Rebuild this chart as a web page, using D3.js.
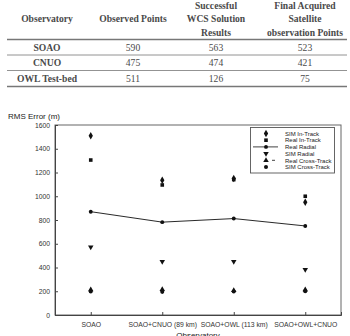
<!DOCTYPE html>
<html>
<head>
<meta charset="utf-8">
<script src="https://cdn.jsdelivr.net/npm/d3@7"></script>
<style>
  body { margin: 0; background: #fff; }
  svg { display: block; }
</style>
</head>
<body>
<div id="chart"></div>
<script>
// table data
var tableHeaders = [["Observatory"], ["Observed Points"], ["Successful", "WCS Solution", "Results"], ["Final Acquired", "Satellite", "observation Points"]];
var observatories = ["SOAO", "CNUO", "OWL Test-bed"];
var observedPoints = [590, 475, 511];
var wcsResults = [563, 474, 126];
var finalPoints = [523, 421, 75];

// chart data
var categories = ["SOAO", "SOAO+CNUO (89 km)", "SOAO+OWL (113 km)", "SOAO+OWL+CNUO"];
var simInTrack = [1510, 1135, 1150, 950];
var realInTrack = [1305, 1095, 1140, 1000];
var realRadial = [870, 782, 812, 750];
var simRadial = [572, 450, 450, 382];
var realCrossTrack = [213, 216, 206, 214];
var simCrossTrack = [198, 195, 198, 201];
var yTicks = [0, 200, 400, 600, 800, 1000, 1200, 1400, 1600];

var svgWidth = 350;
var svgHeight = 336;

var svg = d3.select("#chart")
  .append("svg")
  .attr("width", svgWidth)
  .attr("height", svgHeight);

// ---------- table ----------
var colX = [47, 133, 216, 305];
var tableFont = "'Liberation Serif', 'DejaVu Serif', serif";
var tableColor = "#4a4a4a";

var header = svg.append("g");
tableHeaders.forEach(function(lines, i) {
  var y0 = lines.length == 1 ? 21.5 : 8.5;
  lines.forEach(function(t, j) {
    header.append("text")
      .attr("x", colX[i])
      .attr("y", y0 + j * 13.5)
      .attr("text-anchor", "middle")
      .attr("font-family", tableFont)
      .attr("font-weight", "bold")
      .attr("font-size", 9.6)
      .attr("fill", tableColor)
      .text(t);
  });
});

var rowY = [48, 63, 78.5];
var rows = observatories.map(function(o, i) {
  return [o, observedPoints[i], wcsResults[i], finalPoints[i]];
});

rows.forEach(function(r, i) {
  r.forEach(function(v, j) {
    svg.append("text")
      .attr("x", colX[j])
      .attr("y", rowY[i] + 3.3)
      .attr("text-anchor", "middle")
      .attr("font-family", tableFont)
      .attr("font-weight", j == 0 ? "bold" : "normal")
      .attr("font-size", 9.6)
      .attr("fill", tableColor)
      .text(v);
  });
});

// rules
[[39.5, 1.4], [55, 0.8], [70.5, 0.8], [86.5, 1.4]].forEach(function(l) {
  svg.append("line")
    .attr("x1", 7).attr("x2", 347)
    .attr("y1", l[0]).attr("y2", l[0])
    .attr("stroke", "#777")
    .attr("stroke-width", l[1]);
});

// ---------- chart ----------
var margin = { top: 125, left: 55, right: 9, bottom: 21 };
var width = svgWidth - margin.left - margin.right;
var height = svgHeight - margin.top - margin.bottom;
var chartFont = "'Liberation Sans', Arial, sans-serif";

var chartGroup = svg.append("g")
  .attr("transform", `translate(${margin.left}, ${margin.top})`);

var xScale = d3.scalePoint()
  .domain(categories)
  .range([0, width])
  .padding(0.5);

var yScale = d3.scaleLinear()
  .domain([0, 1600])
  .range([height, 0]);

// frame
chartGroup.append("rect")
  .attr("width", width)
  .attr("height", height)
  .attr("fill", "none")
  .attr("stroke", "#666")
  .attr("stroke-width", 1);

var yAxis = chartGroup.append("g")
  .call(d3.axisRight(yScale).tickValues(yTicks).tickSize(3).tickFormat(d3.format("d")));
yAxis.select(".domain").attr("stroke", "#444");
yAxis.selectAll("line").attr("stroke", "#444");
yAxis.selectAll("text")
  .attr("x", -5)
  .attr("text-anchor", "end")
  .attr("font-family", chartFont)
  .attr("font-size", 6.8)
  .attr("fill", "#333");

var xAxis = chartGroup.append("g")
  .attr("transform", `translate(0, ${height})`)
  .call(d3.axisTop(xScale).tickSize(3));
xAxis.select(".domain").attr("stroke", "#444");
xAxis.selectAll("line").attr("stroke", "#444");
xAxis.selectAll("text")
  .attr("y", 12)
  .attr("dy", 0)
  .attr("font-family", chartFont)
  .attr("font-size", 6.8)
  .attr("fill", "#333");

// axis titles
svg.append("text")
  .attr("x", 8)
  .attr("y", 119)
  .attr("font-family", chartFont)
  .attr("font-size", 8)
  .attr("fill", "#222")
  .text("RMS Error (m)");

svg.append("text")
  .attr("x", margin.left + width / 2)
  .attr("y", 337.5)
  .attr("text-anchor", "middle")
  .attr("font-family", chartFont)
  .attr("font-size", 8)
  .attr("fill", "#222")
  .text("Observatory");

// radial line
var line = d3.line()
  .x(function(d, i) { return xScale(categories[i]); })
  .y(function(d) { return yScale(d); });

chartGroup.append("path")
  .datum(realRadial)
  .attr("d", line)
  .attr("fill", "none")
  .attr("stroke", "#111")
  .attr("stroke-width", 0.9);

var series = [
  { name: "SIM  In-Track", values: simInTrack, symbol: d3.symbolDiamond, size: 16 },
  { name: "Real In-Track", values: realInTrack, symbol: d3.symbolSquare, size: 13 },
  { name: "Real Radial", values: realRadial, symbol: d3.symbolCircle, size: 12, line: true },
  { name: "SIM  Radial", values: simRadial, symbol: d3.symbolTriangle, size: 13, rotate: 180 },
  { name: "Real Cross-Track", values: realCrossTrack, symbol: d3.symbolTriangle, size: 13, dash: true },
  { name: "SIM  Cross-Track", values: simCrossTrack, symbol: d3.symbolCircle, size: 13 }
];

series.forEach(function(s) {
  chartGroup.selectAll(null)
    .data(s.values)
    .enter().append("path")
    .attr("d", d3.symbol().type(s.symbol).size(s.size))
    .attr("transform", function(d, i) {
      return "translate(" + xScale(categories[i]) + "," + yScale(d) + ")" + (s.rotate ? " rotate(180)" : "");
    })
    .attr("fill", "#111");
});

// legend
var legend = svg.append("g");
legend.append("rect")
  .attr("x", 250.5).attr("y", 127.5)
  .attr("width", 84).attr("height", 45.5)
  .attr("fill", "#fff")
  .attr("stroke", "#555")
  .attr("stroke-width", 0.9);

series.forEach(function(s, i) {
  var y = 133.5 + i * 6.7;
  if (s.line) {
    legend.append("line")
      .attr("x1", 253).attr("x2", 278)
      .attr("y1", y).attr("y2", y)
      .attr("stroke", "#111").attr("stroke-width", 0.8);
  }
  if (s.dash) {
    legend.append("line")
      .attr("x1", 272).attr("x2", 275)
      .attr("y1", y).attr("y2", y)
      .attr("stroke", "#111").attr("stroke-width", 0.8);
  }
  legend.append("path")
    .attr("d", d3.symbol().type(s.symbol).size(s.size))
    .attr("transform", "translate(266," + y + ")" + (s.rotate ? " rotate(180)" : ""))
    .attr("fill", "#111");
  legend.append("text")
    .attr("x", 285)
    .attr("y", y + 2.2)
    .attr("font-family", chartFont)
    .attr("font-size", 6)
    .attr("fill", "#222")
    .text(s.name);
});
</script>
</body>
</html>
